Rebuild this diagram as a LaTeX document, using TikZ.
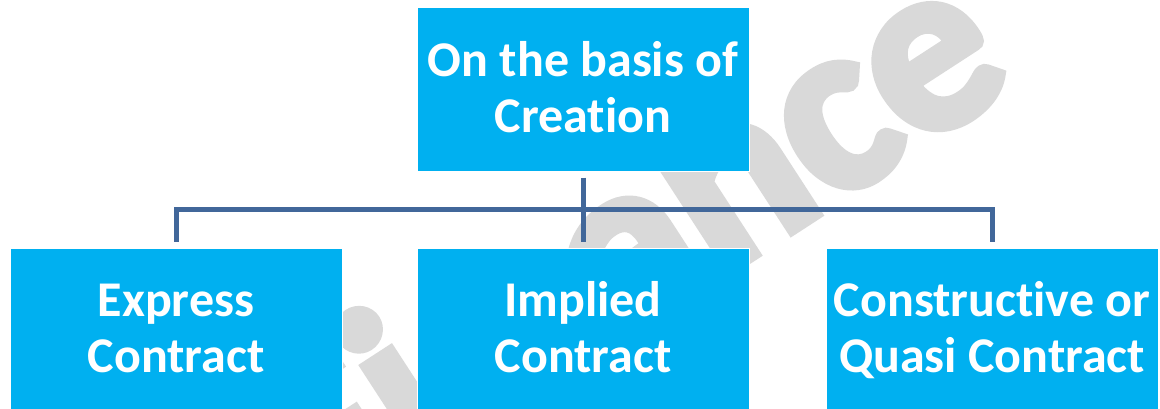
\documentclass[tikz,border=0pt]{standalone}
\usepackage{fontspec}
\setmainfont{Carlito}[Ligatures=CommonOff]
\newfontfamily\boxfont{Carlito}[Ligatures=CommonOff]
\newfontfamily\wmfont{Carlito}[Ligatures=CommonOff,FakeBold=4]
\usetikzlibrary{calc}
\definecolor{boxblue}{HTML}{00B0F0}
\definecolor{linec}{RGB}{65,103,154}
\definecolor{wmgray}{HTML}{D9D9D9}
\newcommand\wmw{\kern23pt}
\newcommand\topstrut{\rule{0pt}{45pt}}
\newcommand\botstrut{\rule[-16pt]{0pt}{16pt}}
\tikzset{
  box/.style={rectangle, fill=boxblue, draw=white, line width=1pt,
    minimum width=332pt, minimum height=163pt, inner sep=0pt,
    align=center, text=white,
    font=\boxfont\bfseries\fontsize{50}{56}\selectfont},
  conn/.style={draw=linec, line width=5pt, line join=miter},
  wmark/.style={rotate=33, anchor=base east, inner sep=0pt, text=wmgray,
    font=\wmfont\bfseries\fontsize{245}{245}\selectfont}
}
\begin{document}
\begin{tikzpicture}[x=1pt,y=1pt]
\useasboundingbox (0,0) rectangle (1160,408);
\clip (0,0) rectangle (1160,408);
\fill[white] (0,0) rectangle (1160,408);
% watermark
\node[wmark] (wm) at (1017.8,323.8) {Fi\wmw n\wmw ance};
% boxes
\node[box] (top) at (583,318.5) {\topstrut On the basis of\\Creation\botstrut};
\node[box] (left) at (176,78.5) {\topstrut Express\\Contract\botstrut};
\node[box] (mid) at (583,78.5) {\topstrut Implied\\Contract\botstrut};
\node[box] (right) at (992,78.5) {\topstrut Constructive or\\Quasi Contract\botstrut};
% connectors
\coordinate (bus) at (583,198.7);
\draw[conn] ([yshift=-6pt]top.south) -- (bus) -| ([yshift=6pt]left.north);
\draw[conn] (bus) -| ([yshift=6pt]right.north);
\draw[conn] (bus) -- ([yshift=6pt]mid.north);
\end{tikzpicture}
\end{document}
